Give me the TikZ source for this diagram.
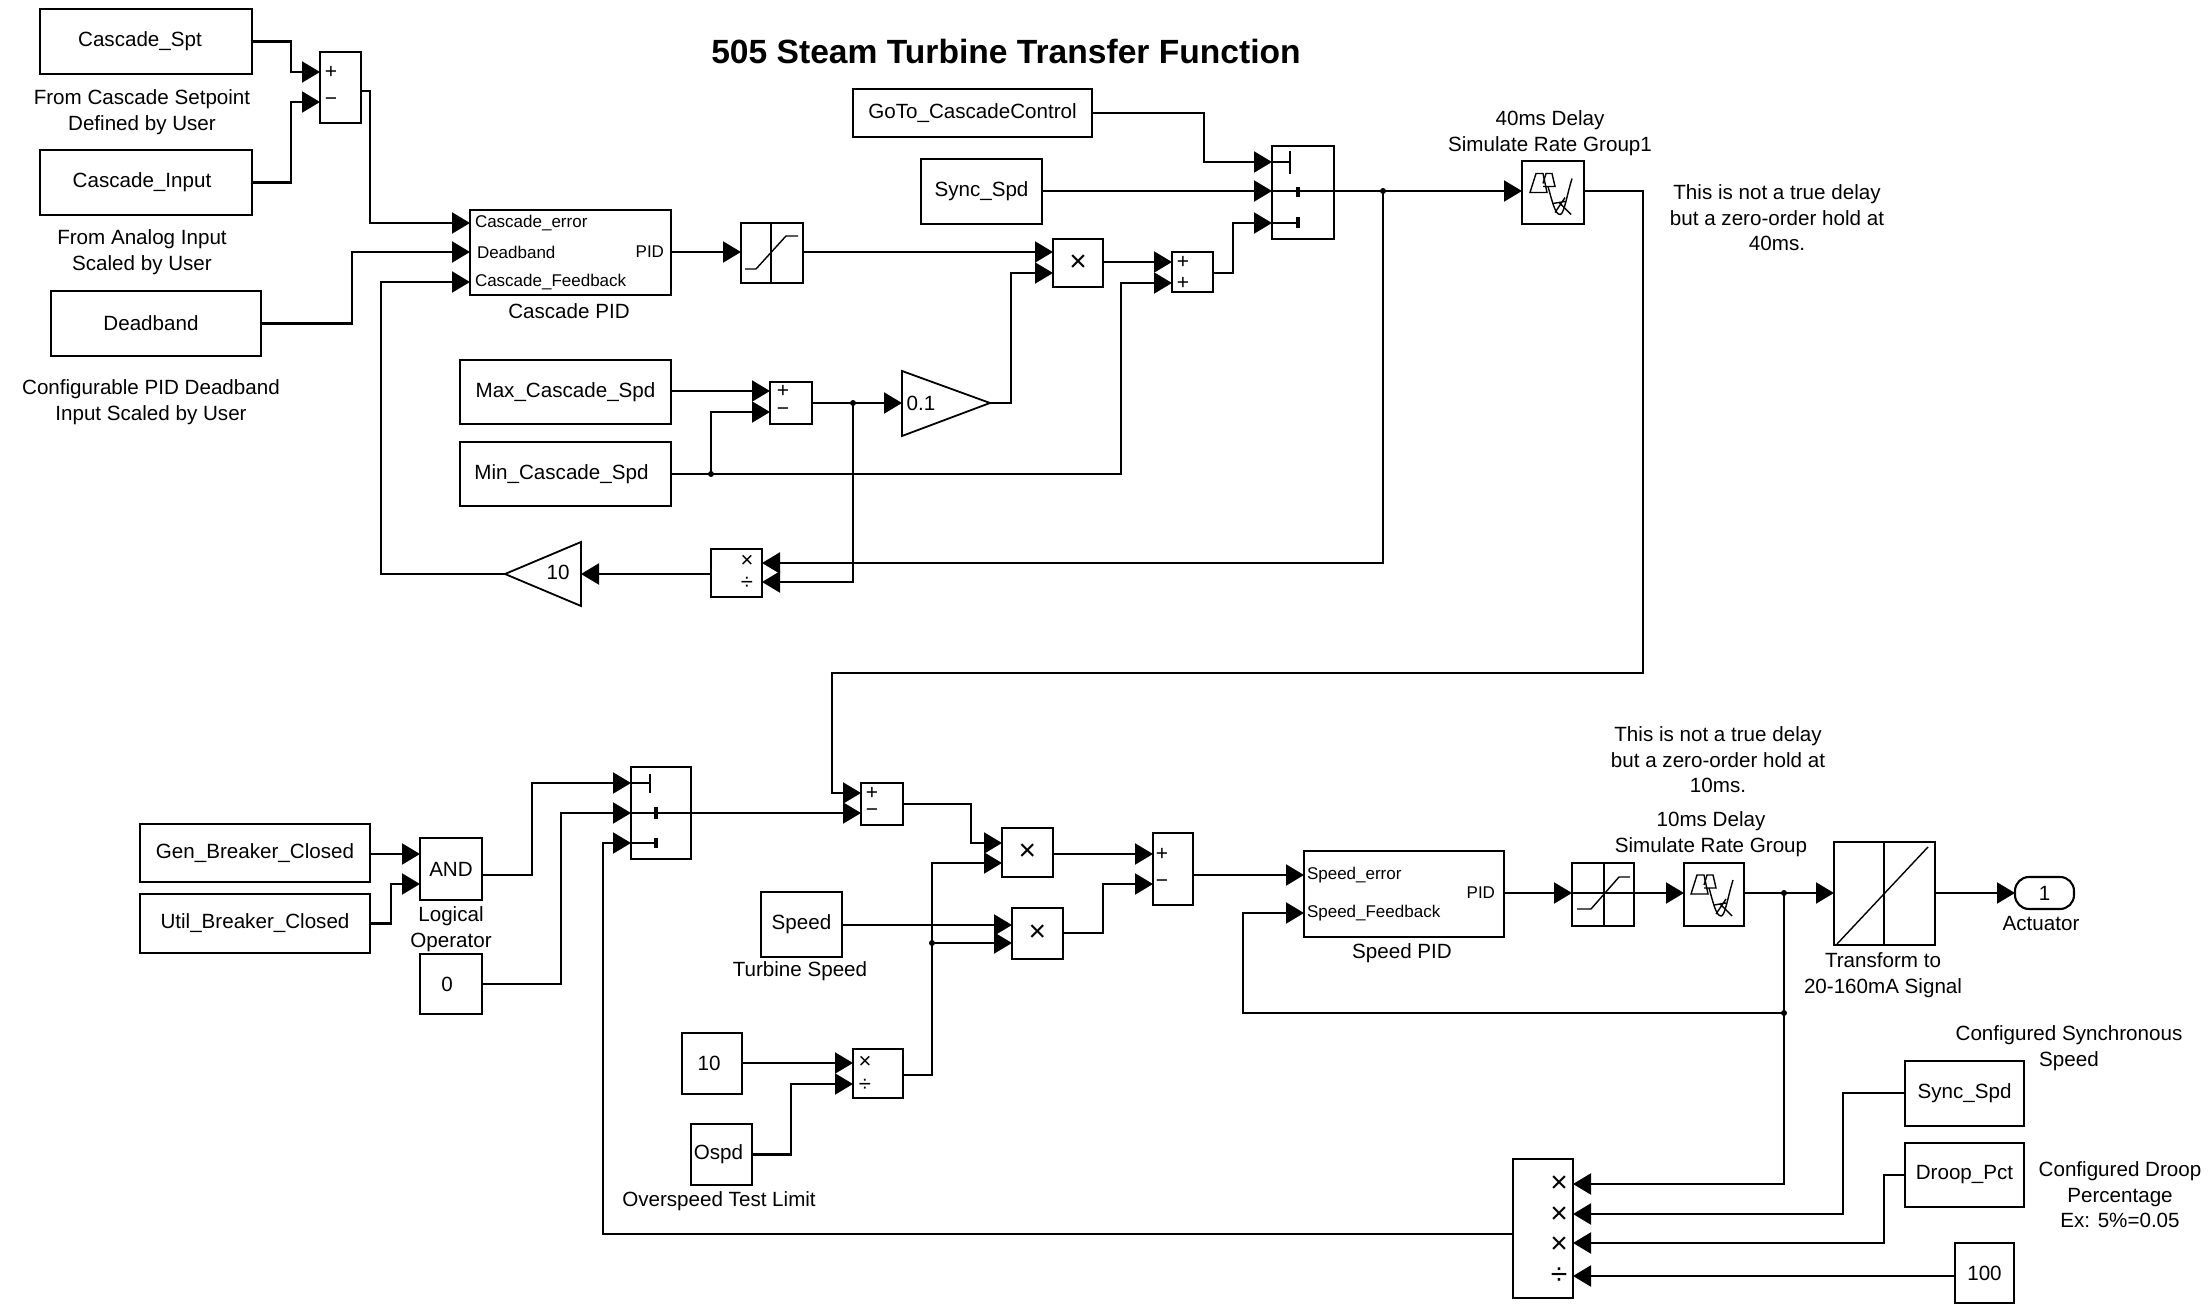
\documentclass[tikz,border=0pt]{standalone}
\usepackage{fontspec}
\setmainfont{Liberation Sans}
\usetikzlibrary{arrows.meta,calc}
\tikzset{
  blk/.style={draw=black,line width=1.05pt,inner sep=0pt,outer sep=0pt,align=center,font=\fontsize{10.3}{12.7}\selectfont},
  lbl/.style={inner sep=0pt,outer sep=0pt,align=center,font=\fontsize{10.3}{12.7}\selectfont},
  portlbl/.style={inner sep=0pt,outer sep=0pt,font=\fontsize{8.5}{10}\selectfont},
  sgn/.style={inner sep=0pt,outer sep=0pt,font=\fontsize{10.5}{11}\selectfont},
  opsym/.style={inner sep=0pt,outer sep=0pt,font=\fontsize{15}{16}\selectfont},
  opsmall/.style={inner sep=0pt,outer sep=0pt,font=\fontsize{11}{12}\selectfont},
  wire/.style={draw=black,line width=1.05pt},
  arr/.style={wire,-{Triangle[length=9pt,width=10.5pt]}},
  thinicon/.style={draw=black,line width=0.7pt},
  jdot/.style={fill=black},
}
\newcommand\blk[6]{\node[blk,minimum width={(#4-#2)*0.5pt},minimum height={(#5-#3)*0.5pt}] (#1) at ({(#2+#4)/2},{(#3+#5)/2}) {#6};}
\newcommand\zohicon[2]{\begin{scope}[shift={(#1,#2)}]
  \draw[thinicon] (-23,0)--(-17,-19)--(-10,-19)--(-6,0)--cycle;
  \draw[thinicon] (-10,-9)--(-7,-19)--(-1,-19)--(2,-6)--(-10,-6);
  \draw[thinicon] (-5,-6)..controls (-1,8) and (2,22) .. (7,22)..controls (11,22) and (13,6) .. (19,-14);
  \draw[thinicon] (0,11)--(12,9) (2,20)--(12,5) (6,10)--(18,22);
\end{scope}}
\newcommand\jct[2]{\fill[jdot] (#1) circle[radius=3];}
\begin{document}
\begin{tikzpicture}[x=0.5pt,y=-0.5pt]
\path[fill=white,use as bounding box] (0,0) rectangle (2208,1304);

% ---- title
\node[inner sep=0pt,outer sep=0pt,font=\fontsize{16.8}{20}\selectfont\bfseries] (title) at (1006,51) {505 Steam Turbine Transfer Function};

% ---- upper blocks
\blk{cspt}{40}{9}{252}{74}{Cascade\_Spt\hspace{6pt}}
\blk{cinp}{40}{150}{252}{215}{Cascade\_Input\hspace{4pt}}
\blk{dbnd}{51}{291}{261}{356}{Deadband\hspace{5pt}}
\blk{sumA}{320}{52}{361}{123}{}
\blk{cpid}{470}{210}{671}{295}{}
\blk{dzA}{741}{223}{803}{283}{}
\blk{maxs}{460}{360}{671}{424}{Max\_Cascade\_Spd}
\blk{mins}{460}{442}{671}{506}{Min\_Cascade\_Spd\hspace{4pt}}
\blk{sumB}{770}{382}{812}{424}{}
\blk{prodA}{711}{549}{762}{597}{}
\blk{goto}{853}{89}{1092}{137}{GoTo\_CascadeControl}
\blk{syncA}{921}{159}{1042}{224}{Sync\_Spd}
\blk{mulA}{1053}{239}{1103}{287}{\fontsize{15}{16}\selectfont ×}
\blk{sumC}{1172}{252}{1213}{292}{}
\blk{swA}{1272}{146}{1334}{239}{}
\blk{zohA}{1522}{161}{1584}{224}{}
\zohicon{1553}{192.5}

% gains
\coordinate (gBin) at (902,403);
\coordinate (gBtip) at (990,403);
\draw[wire,line width=0.9pt] (902,371)--(gBtip)--(902,436)--cycle;
\node[lbl] (gBtxt) at (921,403) {0.1};
\coordinate (gAtip) at (505,574);
\coordinate (gAin) at (581,574);
\draw[wire,line width=0.9pt] (581,542)--(gAtip)--(581,606)--cycle;
\node[lbl] (gAtxt) at (558,572) {10};

% ---- upper port labels and signs
\node[portlbl,anchor=west] (pA) at (475,223) {Cascade\_error};
\node[portlbl,anchor=west] (pB) at (477,252) {Deadband};
\node[portlbl,anchor=west] (pC) at (475,282) {Cascade\_Feedback};
\node[portlbl,anchor=east] (pD) at (664,252) {PID};
\node[sgn] (sA1) at (331,72) {+};
\node[sgn] (sA2) at (331,102) {−};
\node[sgn] (sB1) at (783,391) {+};
\node[sgn] (sB2) at (783,412) {−};
\node[sgn] (sC1) at (1183,262) {+};
\node[sgn] (sC2) at (1183,283) {+};
\node[opsmall] (oA1) at (747,561) {×};
\node[opsmall] (oA2) at (747,583) {÷};

% ---- upper labels
\node[lbl] (tA) at (142,112) {From Cascade Setpoint\\Defined by User};
\node[lbl] (tB) at (142,252) {From Analog Input\\Scaled by User};
\node[lbl] (tC) at (151,402) {Configurable PID Deadband\\Input Scaled by User};
\node[lbl] (tD) at (569,311) {Cascade PID};
\node[lbl] (tE) at (1550,133) {40ms Delay\\Simulate Rate Group1};
\node[lbl] (tF) at (1777,218) {This is not a true delay\\but a zero-order hold at\\40ms.};

% deadzone A icon
\draw[wire] (771,223)--(771,283);
\draw[thinicon] (745,269)--(756,269)--(786,236)--(798,236);
% switch A internals
\draw[wire] (1272,162)--(1290,162);
\draw[wire,line width=1.1pt] (1290,151)--(1290,174);
\draw[wire,line width=2.4pt] (1298,187)--(1298,197);
\draw[wire] (1272,223)--(1298,223);
\draw[wire,line width=2.4pt] (1298,217)--(1298,228);
\draw[wire] (1272,191)--(1334,191);

% ---- upper connectors
\draw[arr] (cspt.east) -| (291,72) -- (sumA.west|-0,72);
\draw[arr] (cinp.east) -| (291,102) -- (sumA.west|-0,102);
\draw[arr] (sumA.east|-0,91) -| (370,223) -- (cpid.west|-0,223);
\draw[arr] (dbnd.east) -| (352,252) -- (cpid.west|-0,252);
\draw[arr] (gAtip) -| (381,282) -- (cpid.west|-0,282);
\draw[arr] (cpid.east|-0,252) -- (dzA.west|-0,252);
\draw[arr] (dzA.east|-0,252) -- (mulA.west|-0,252);
\draw[arr] (maxs.east|-0,391) -- (sumB.west|-0,391);
\coordinate (jA) at (711,474);
\coordinate (jB) at (853,403);
\coordinate (jC) at (1383,191);
\draw[arr] (mins.east) -- (1121,474) -- (1121,283) -- (sumC.west|-0,283);
\draw[arr] (jA) |- (sumB.west|-0,412);
\draw[arr] (sumB.east|-0,403) -- (gBin);
\draw[arr] (jB) |- (prodA.east|-0,582);
\draw[arr] (gBtip) -| (1011,273) -- (mulA.west|-0,273);
\draw[arr] (mulA.east|-0,262) -- (sumC.west|-0,262);
\draw[arr] (sumC.east|-0,273) -| (1233,223) -- (swA.west|-0,223);
\draw[arr] (goto.east) -| (1204,162) -- (swA.west|-0,162);
\draw[arr] (syncA.east|-0,191) -- (swA.west|-0,191);
\draw[arr] (swA.east|-0,191) -- (zohA.west|-0,191);
\draw[arr] (jC) |- (prodA.east|-0,563);
\draw[arr] (prodA.west|-0,574) -- (gAin);
\jct{jA}{} \jct{jB}{} \jct{jC}{}

% ---- lower blocks
\blk{gen}{140}{824}{370}{882}{Gen\_Breaker\_Closed}
\blk{util}{140}{894}{370}{953}{Util\_Breaker\_Closed}
\blk{andb}{420}{838}{482}{900}{AND}
\blk{zero}{420}{954}{482}{1014}{0\hspace{4pt}}
\blk{swB}{631}{767}{691}{859}{}
\blk{sumD}{861}{783}{903}{825}{}
\blk{mulB}{1002}{828}{1053}{877}{\fontsize{15}{16}\selectfont ×}
\blk{mulC}{1012}{908}{1063}{959}{\fontsize{15}{16}\selectfont ×}
\blk{speed}{761}{892}{842}{957}{Speed}
\blk{ten}{682}{1033}{742}{1094}{10\hspace{3pt}}
\blk{prodB}{853}{1049}{903}{1098}{}
\blk{ospd}{691}{1124}{752}{1185}{Ospd\hspace{3pt}}
\blk{sumE}{1153}{833}{1193}{905}{}
\blk{spid}{1304}{851}{1504}{937}{}
\blk{dzB}{1572}{863}{1634}{926}{}
\blk{zohB}{1684}{863}{1744}{926}{}
\zohicon{1714}{894}
\blk{trans}{1834}{842}{1935}{945}{}
\node[blk,rounded corners=7pt,minimum width=29.5pt,minimum height=16pt] (outp) at (2044.5,893) {1};
\blk{syncB}{1905}{1061}{2024}{1126}{Sync\_Spd}
\blk{droop}{1905}{1143}{2024}{1207}{Droop\_Pct}
\blk{hund}{1955}{1243}{2014}{1303}{100}
\blk{big}{1513}{1159}{1573}{1298}{}

% ---- lower signs and labels
\node[sgn] (sD1) at (872,793) {+};
\node[sgn] (sD2) at (872,813) {−};
\node[sgn] (sE1) at (1162,854) {+};
\node[sgn] (sE2) at (1162,884) {−};
\node[opsmall] (oB1) at (865,1062) {×};
\node[opsmall] (oB2) at (865,1085) {÷};
\node[opsym] (oC1) at (1559,1184) {×};
\node[opsym] (oC2) at (1559,1215) {×};
\node[opsym] (oC3) at (1559,1245) {×};
\node[opsym] (oC4) at (1559,1276) {÷};
\node[portlbl,anchor=west] (pE) at (1307,875) {Speed\_error};
\node[portlbl,anchor=west] (pF) at (1307,913) {Speed\_Feedback};
\node[portlbl,anchor=east] (pG) at (1495,893) {PID};
\node[lbl] (tG) at (451,929) {Logical\\Operator};
\node[lbl] (tH) at (800,971) {Turbine Speed};
\node[lbl] (tI) at (719,1201) {Overspeed Test Limit};
\node[lbl] (tJ) at (1402,953) {Speed PID};
\node[lbl] (tK) at (1718,760) {This is not a true delay\\but a zero-order hold at\\10ms.};
\node[lbl] (tL) at (1711,834) {10ms Delay\\Simulate Rate Group};
\node[lbl] (tM) at (1883,975) {Transform to\\20-160mA Signal};
\node[lbl] (tN) at (2041,924) {Actuator};
\node[lbl] (tO) at (2069,1048) {Configured Synchronous\\Speed};
\node[lbl] (tP) at (2120,1195) {Configured Droop\\Percentage\\Ex: 5\%=0.05};

% icons
\draw[wire] (1604,863)--(1604,926);
\draw[thinicon] (1577,909)--(1591,909)--(1619,877)--(1630,877);
\draw[wire] (1884,842)--(1884,945);
\draw[thinicon] (1837,944)--(1928,847);
\draw[wire] (631,783)--(650,783);
\draw[wire,line width=1.1pt] (650,774)--(650,793);
\draw[wire] (631,813)--(691,813);
\draw[wire,line width=2.4pt] (656,807)--(656,819);
\draw[wire] (631,843)--(656,843);
\draw[wire,line width=2.4pt] (656,838)--(656,848);

% ---- lower connectors
\coordinate (jD) at (932,943);
\coordinate (jE) at (1784,893);
\coordinate (jF) at (1784,1013);
\draw[arr] (gen.east|-0,854) -- (andb.west|-0,854);
\draw[arr] (util.east) -| (391,884) -- (andb.west|-0,884);
\draw[arr] (andb.east|-0,875) -| (532,783) -- (swB.west|-0,783);
\draw[arr] (zero.east) -| (561,813) -- (swB.west|-0,813);
\draw[arr] (swB.east|-0,813) -- (sumD.west|-0,813);
\draw[arr] (zohA.east|-0,191) -- (1643,191) -- (1643,673) -- (832,673) -- (832,793) -- (sumD.west|-0,793);
\draw[arr] (sumD.east|-0,804) -| (971,843) -- (mulB.west|-0,843);
\draw[arr] (mulB.east|-0,854) -- (sumE.west|-0,854);
\draw[arr] (speed.east|-0,925) -- (mulC.west|-0,925);
\draw[arr] (mulC.east|-0,933) -| (1103,884) -- (sumE.west|-0,884);
\draw[arr] (ten.east|-0,1063) -- (prodB.west|-0,1063);
\draw[arr] (ospd.east) -| (791,1084) -- (prodB.west|-0,1084);
\draw[arr] (prodB.east|-0,1075) -| (932,863) -- (mulB.west|-0,863);
\draw[arr] (jD) -- (mulC.west|-0,943);
\draw[arr] (sumE.east|-0,875) -- (spid.west|-0,875);
\draw[arr] (spid.east|-0,893) -- (dzB.west|-0,893);
\draw[arr] (dzB.west|-0,893) -- (zohB.west|-0,893);
\draw[arr] (zohB.east|-0,893) -- (trans.west|-0,893);
\draw[arr] (trans.east|-0,893) -- (outp.west);
\draw[arr] (jF) -| (1243,913) -- (spid.west|-0,913);
\draw[arr] (jE) |- (big.east|-0,1184);
\draw[arr] (syncB.west|-0,1093) -| (1843,1214) -- (big.east|-0,1214);
\draw[arr] (droop.west|-0,1175) -| (1884,1243) -- (big.east|-0,1243);
\draw[arr] (hund.west|-0,1276) -- (big.east|-0,1276);
\draw[arr] (big.west|-0,1234) -| (603,843) -- (swB.west|-0,843);
\jct{jD}{} \jct{jE}{} \jct{jF}{}
\end{tikzpicture}
\end{document}
